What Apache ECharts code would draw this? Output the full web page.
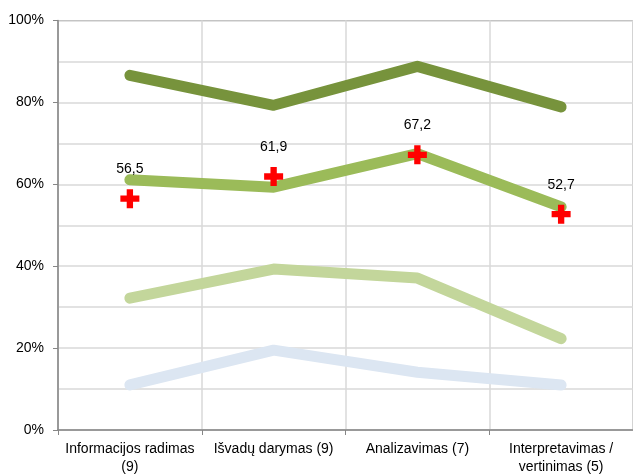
<!DOCTYPE html>
<html>
<head>
    <meta charset="utf-8">
    <title>Gebėjimai</title>
    <script type="text/javascript" src="https://cdn.jsdelivr.net/npm/echarts@6/dist/echarts.min.js"></script>
    <style>
        html, body { margin: 0; padding: 0; background: #fff; }
    </style>
</head>
<body>
<div id="container" style="width: 633px; height: 476px"></div>
<script type="text/javascript">
    // duomenys
    var categories = ['Informacijos radimas\n(9)', 'Išvadų darymas (9)', 'Analizavimas (7)', 'Interpretavimas /\nvertinimas (5)'];
    var lineTop = [86.6, 79.3, 88.8, 78.9];
    var lineMid = [61.1, 59.3, 67.5, 54.5];
    var lineLow = [32.2, 39.3, 37.1, 22.3];
    var lineBottom = [11.0, 19.5, 14.1, 11.0];
    var crossValues = [56.5, 61.9, 67.2, 52.7];
    var yTicks = [0, 20, 40, 60, 80, 100];

    var dom = document.getElementById('container');
    var myChart = echarts.init(dom, null, { renderer: 'canvas' });

    var fontFamily = '"Liberation Sans", Arial, sans-serif';
    var plus = 'path://M2,0H4V2H6V4H4V6H2V4H0V2H2Z';

    function thickLine(data, color) {
        return {
            type: 'line',
            data: data,
            symbol: 'none',
            z: 2,
            lineStyle: { width: 11, color: color, cap: 'round', join: 'round' },
            silent: true
        };
    }

    var option = {
        animation: false,
        grid: {
            left: 58,
            top: 20.5,
            width: 578,
            height: 409.5,
            show: true,
            borderColor: '#868686',
            borderWidth: 1
        },
        xAxis: {
            type: 'category',
            data: categories,
            boundaryGap: true,
            axisLine: { lineStyle: { color: '#868686', width: 1.5 } },
            axisTick: { show: true, length: 5, lineStyle: { color: '#868686' } },
            splitLine: { show: true, lineStyle: { color: '#d9d9d9', width: 1.5 } },
            axisLabel: {
                color: '#000',
                fontFamily: fontFamily,
                fontSize: 14,
                lineHeight: 18,
                margin: 10,
                interval: 0
            }
        },
        yAxis: {
            type: 'value',
            min: yTicks[0],
            max: yTicks[yTicks.length - 1],
            interval: 20,
            axisLine: { show: true, lineStyle: { color: '#868686', width: 1.5 } },
            axisTick: { show: true, length: 5, lineStyle: { color: '#868686' } },
            splitLine: { show: true, lineStyle: { color: '#d9d9d9', width: 1.5 } },
            minorTick: { show: false, splitNumber: 2 },
            minorSplitLine: { show: true, lineStyle: { color: '#d9d9d9', width: 1.5 } },
            axisLabel: {
                color: '#000',
                fontFamily: fontFamily,
                fontSize: 14,
                margin: 14,
                formatter: '{value}%'
            }
        },
        series: [
            thickLine(lineBottom, '#dce6f2'),
            thickLine(lineLow, '#c3d69b'),
            thickLine(lineMid, '#9bbb59'),
            thickLine(lineTop, '#77933c'),
            {
                type: 'scatter',
                data: crossValues,
                symbol: plus,
                symbolSize: 19,
                z: 10,
                itemStyle: { color: '#ff0000', opacity: 1 },
                label: {
                    show: true,
                    position: 'top',
                    distance: 13,
                    color: '#000',
                    opacity: 1,
                    fontFamily: fontFamily,
                    fontSize: 14,
                    formatter: function (p) { return String(p.value).replace('.', ','); }
                }
            }
        ]
    };

    myChart.setOption(option);
    window.addEventListener('resize', myChart.resize);
</script>
</body>
</html>
